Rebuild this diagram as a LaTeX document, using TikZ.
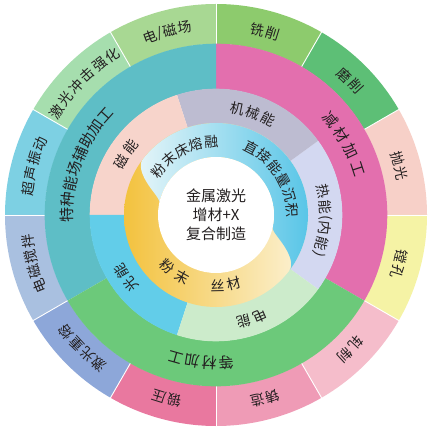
\documentclass[tikz,border=0pt]{standalone}
\usepackage{fontspec}
\newfontfamily\cjk{Noto Sans CJK SC}
\definecolor{txt}{HTML}{231F20}
% outer ring
\definecolor{cPol}{HTML}{F7D0C8}
\definecolor{cGrind}{HTML}{5DBF76}
\definecolor{cMill}{HTML}{8DCB6D}
\definecolor{cEM}{HTML}{A8D893}
\definecolor{cLSP}{HTML}{A6DEAE}
\definecolor{cUS}{HTML}{7DD0E3}
\definecolor{cEMS}{HTML}{A9C0E0}
\definecolor{cLR}{HTML}{8DA7D9}
\definecolor{cPress}{HTML}{E9789F}
\definecolor{cForge}{HTML}{EF9BB6}
\definecolor{cRoll}{HTML}{F5BDCB}
\definecolor{cBore}{HTML}{F5F3A5}
% ring 3
\definecolor{cSub}{HTML}{E36FAE}
\definecolor{cSpec}{HTML}{5EBEC6}
\definecolor{cEq}{HTML}{6CC97A}
% ring 2
\definecolor{cHeat}{HTML}{D3D8F1}
\definecolor{cMech}{HTML}{BDBCD1}
\definecolor{cMag}{HTML}{F7D4CB}
\definecolor{cLight}{HTML}{62CDE9}
\definecolor{cElec}{HTML}{CCEBCB}
% ring 1
\definecolor{bluL}{HTML}{E2F4F8}
\definecolor{bluD}{HTML}{4FC2E6}
\definecolor{yelD}{HTML}{F3C23E}
\definecolor{yelL}{HTML}{FCF3D8}

\newcommand\annsec[5]{\fill[#5] (#3:#1pt) arc[start angle=#3,end angle=#4,radius=#1pt] -- (#4:#2pt) arc[start angle=#4,end angle=#3,radius=#2pt] -- cycle;}
% clockwise text, top outward: style, name, theta, r, spacing, n, chars
\newcommand\cwtext[7]{\foreach \ch [count=\i from 0] in {#7}{%
  \pgfmathsetmacro\ang{#3+((#6-1)/2-\i)*#5/#4*57.29578}%
  \node[#1,rotate=\ang-90] (#2\i) at (\ang:#4pt) {\ch};}}
% counter-clockwise text, top inward
\newcommand\ccwtext[7]{\foreach \ch [count=\i from 0] in {#7}{%
  \pgfmathsetmacro\ang{#3-((#6-1)/2-\i)*#5/#4*57.29578}%
  \node[#1,rotate=\ang+90] (#2\i) at (\ang:#4pt) {\ch};}}
% clockwise text with explicit offsets: style, name, theta, r, span, list ch/offset
\newcommand\cwpos[6]{\foreach \ch/\o [count=\i] in {#6}{%
  \pgfmathsetmacro\ang{#3+(#5/2-\o)/#4*57.29578}%
  \node[#1,rotate=\ang-90] (#2\i) at (\ang:#4pt) {\ch};}}

\begin{document}
\begin{tikzpicture}[x=1pt,y=1pt,
  lblbase/.style={text=txt,inner sep=0pt,anchor=center},
  lbl4/.style={lblbase,font=\cjk\fontsize{14}{14}\selectfont},
  lbl3/.style={lblbase,font=\cjk\fontsize{15}{15}\selectfont},
  lbl2/.style={lblbase,font=\cjk\fontsize{14}{14}\selectfont},
  lbl1/.style={lblbase,font=\cjk\fontsize{14}{14}\selectfont},
  sep/.style={white,line width=0.9pt}]
\useasboundingbox (0,0) rectangle (433,431);
\fill[white] (0,0) rectangle (433,431);
\begin{scope}[shift={(216,216)}]
% ---- outer ring
\annsec{171}{211}{0}{30}{cPol}
\annsec{171}{211}{30}{60}{cGrind}
\annsec{171}{211}{60}{90}{cMill}
\annsec{171}{211}{90}{120}{cEM}
\annsec{171}{211}{120}{150}{cLSP}
\annsec{171}{211}{150}{180}{cUS}
\annsec{171}{211}{180}{210}{cEMS}
\annsec{171}{211}{210}{240}{cLR}
\annsec{171}{211}{240}{270}{cPress}
\annsec{171}{211}{270}{300}{cForge}
\annsec{171}{211}{300}{330}{cRoll}
\annsec{171}{211}{330}{360}{cBore}
\foreach \a in {0,30,...,330} \draw[sep] (\a:170pt) -- (\a:212pt);
% ---- ring 3
\annsec{126}{171.3}{-30}{90}{cSub}
\annsec{126}{171.3}{90}{210}{cSpec}
\annsec{126}{171.3}{210}{330}{cEq}
% ---- ring 2
\annsec{91.5}{126.3}{-36}{36}{cHeat}
\annsec{91.5}{126.3}{36}{108}{cMech}
\annsec{91.5}{126.3}{108}{180}{cMag}
\annsec{91.5}{126.3}{180}{252}{cLight}
\annsec{91.5}{126.3}{252}{324}{cElec}
% ---- ring 1 (yin-yang)
\shade[left color=yelD,right color=yelL] (0,0) circle[radius=92pt];
\shade[left color=bluL,right color=bluD] (-37:92pt) arc[start angle=-37,end angle=143,radius=92pt]
  -- plot[domain=0:1,samples=40,variable=\t] ({(92-34*(3*\t*\t-2*\t*\t*\t))*cos(143+25*\t)},{(92-34*(3*\t*\t-2*\t*\t*\t))*sin(143+25*\t)})
  arc[start angle=168,end angle=-12,radius=58pt]
  -- plot[domain=0:1,samples=40,variable=\t] ({(58+34*(3*\t*\t-2*\t*\t*\t))*cos(-12-25*\t)},{(58+34*(3*\t*\t-2*\t*\t*\t))*sin(-12-25*\t)})
  -- cycle;
\fill[white] (0,0) circle[radius=58pt];
% ---- centre
\node[lblbase,align=center,font=\cjk\fontsize{15}{19}\selectfont] (title) at (0,0) {金属激光\\增材+X\\复合制造};
% ---- outer labels
\cwtext{lbl4}{pol}{15}{190}{16}{2}{抛,光}
\cwtext{lbl4}{gri}{45}{190}{16}{2}{磨,削}
\cwtext{lbl4}{mil}{75}{190}{16}{2}{铣,削}
\cwpos{lbl4}{emf}{105}{190}{36}{电/0,{/}/10.5,磁/21,场/36}
\cwtext{lbl4}{lsp}{135}{190}{16}{6}{激,光,冲,击,强,化}
\cwtext{lbl4}{usv}{165}{190}{15.5}{4}{超,声,振,动}
\cwtext{lbl4}{ems}{195}{190}{15.5}{4}{电,磁,搅,拌}
\cwtext{lbl4}{lrm}{225}{190}{15.5}{4}{激,光,重,熔}
\cwtext{lbl4}{prs}{255}{190}{16}{2}{锻,压}
\cwtext{lbl4}{frg}{285}{190}{16}{2}{铸,造}
\cwtext{lbl4}{rol}{315}{190}{16}{2}{轧,制}
\cwtext{lbl4}{bor}{345}{190}{16}{2}{镗,孔}
% ---- ring 3 labels
\cwtext{lbl3}{spc}{159}{149}{15.5}{8}{特,种,能,场,辅,助,加,工}
\cwtext{lbl3}{sub}{29}{149}{19}{4}{减,材,加,工}
\cwtext{lbl3}{eqm}{264}{148}{17}{4}{等,材,加,工}
% ---- ring 2 labels
\cwtext{lbl2}{mag}{146}{109}{18}{2}{磁,能}
\cwtext{lbl2}{mec}{70}{109}{16}{3}{机,械,能}
\cwpos{lbl2}{hea}{-4}{110}{64}{热/0,能/16,{(}/27,内/37,能/53,{)}/64}
\cwtext{lbl2}{ele}{289}{110}{17}{2}{电,能}
\cwtext{lbl2}{lig}{215}{110}{17}{2}{光,能}
% ---- ring 1 labels
\cwtext{lbl1}{pbf}{118}{73}{15.5}{5}{粉,末,床,熔,融}
\cwtext{lbl1}{ded}{33}{76}{15.5}{6}{直,接,能,量,沉,积}
\ccwtext{lbl1}{pow}{234}{71}{18}{2}{粉,末}
\ccwtext{lbl1}{wir}{278}{71}{17}{2}{丝,材}
\end{scope}
\end{tikzpicture}
\end{document}
